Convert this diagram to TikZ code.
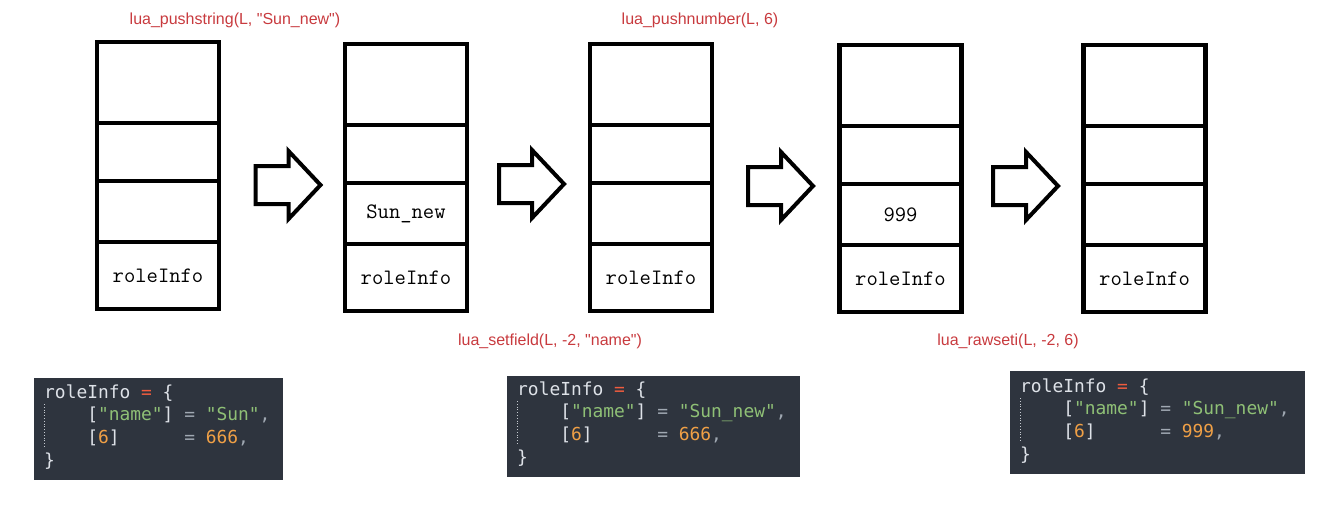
\documentclass[tikz,border=0pt]{standalone}
\usepackage{fontspec}
\usepackage{tikz}
\usetikzlibrary{positioning}
\newfontfamily\labelfont{Liberation Sans}
\newfontfamily\codefont{DejaVu Sans Mono}

\definecolor{callred}{RGB}{200,58,62}
\definecolor{codebg}{RGB}{46,52,62}
\definecolor{codetext}{RGB}{222,226,232}
\definecolor{codered}{RGB}{240,92,62}
\definecolor{codegreen}{RGB}{143,192,118}
\definecolor{codegray}{RGB}{160,168,178}
\definecolor{codeorange}{RGB}{240,160,70}

\tikzset{
  cell/.style={draw, line width=4.5pt, rectangle, minimum width=122pt, inner sep=0pt, outer sep=0pt,
    font=\ttfamily\fontsize{22}{22}\selectfont},
  call/.style={text=callred, font=\labelfont\fontsize{16}{16}\selectfont, inner sep=0pt},
  codebox/.style={fill=codebg, draw=none, rectangle, anchor=north west, inner sep=0pt},
  codeline/.style={text=codetext, anchor=base west, inner sep=0pt, font=\codefont\fontsize{17.9}{17.9}\selectfont},
  blockarrow/.pic={\draw[line width=4pt] (-32,-19) -- (1,-19) -- (1,-34) -- (33,0) -- (1,34) -- (1,19) -- (-32,19) -- cycle;}
}

\begin{document}
\begin{tikzpicture}[x=1pt, y=-1pt]
  \useasboundingbox (0,0) rectangle (1342,522);

  % the five stacks
  \foreach \n/\cx/\top/\val in {a/158/42/{}, b/406/44/{Sun\_new}, c/651/44/{}, d/900.5/45/{999}, e/1144.5/45/{}} {
    \node[cell, minimum height=81pt, anchor=north] (\n1) at (\cx,\top) {};
    \node[cell, minimum height=58pt, below=0pt of \n1] (\n2) {};
    \node[cell, minimum height=61pt, below=0pt of \n2] (\n3) {\val};
    \node[cell, minimum height=67pt, below=0pt of \n3] (\n4) {roleInfo};
  }

  % hollow arrows between the stacks
  \pic at (287.5,185) {blockarrow};
  \pic at (531,184) {blockarrow};
  \pic at (780,186) {blockarrow};
  \pic at (1025,186) {blockarrow};

  % api calls
  \node[call] (pushstr) at (235,20) {lua\_pushstring(L, "Sun\_new")};
  \node[call] (pushnum) at (700,20) {lua\_pushnumber(L, 6)};
  \node[call] (setfield) at (550,341) {lua\_setfield(L, -2, "name")};
  \node[call] (rawseti) at (1008,341) {lua\_rawseti(L, -2, 6)};

  % table contents
  \node[codebox, minimum width=249pt, minimum height=102pt] (code1) at (34,378) {};
  \node[codebox, minimum width=293pt, minimum height=101pt] (code2) at (507,376) {};
  \node[codebox, minimum width=295pt, minimum height=103pt] (code3) at (1010,371) {};

  \foreach \x/\y/\nm/\num in {44/398/Sun/666, 517/395/Sun\_new/666, 1020/392/Sun\_new/999} {
    \draw[codegray!60, line width=0.8pt, dotted] (\x+0.5,\y+6) -- (\x+0.5,\y+50);
    \node[codeline] at (\x,\y) {roleInfo~\textcolor{codered}{=}~\{};
    \node[codeline] at (\x,\y+22.7) {~~~~[\textcolor{codegreen}{"name"}]~\textcolor{codegray}{=}~\textcolor{codegreen}{"\nm"}\textcolor{codegray}{,}};
    \node[codeline] at (\x,\y+45.4) {~~~~[\textcolor{codeorange}{6}]~~~~~~\textcolor{codegray}{=}~\textcolor{codeorange}{\num}\textcolor{codegray}{,}};
    \node[codeline] at (\x,\y+68.1) {\}};
  }
\end{tikzpicture}
\end{document}
